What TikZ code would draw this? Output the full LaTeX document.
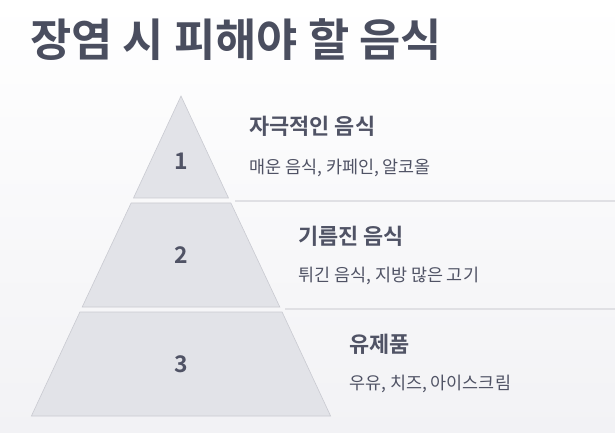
\documentclass[tikz,border=0pt]{standalone}
\usepackage{fontspec}
\setmainfont{Noto Sans CJK KR}[BoldFont={* Bold}]
\usetikzlibrary{positioning}

\definecolor{inkdark}{HTML}{4A4E5F}
\definecolor{inktext}{HTML}{505365}
\definecolor{tierfill}{HTML}{E2E3E8}
\definecolor{tieredge}{HTML}{C9CAD1}
\definecolor{rulegray}{HTML}{E0E0E4}
\definecolor{bgshade}{HTML}{F2F2F5}

\begin{document}
\begin{tikzpicture}[x=1bp,y=-1bp]
        \tikzset{
            tier/.style= {
                fill=tierfill,
                draw=tieredge,
                line width=0.6bp
            },
            num/.style= {
                font=\bfseries\fontsize{23}{23}\selectfont,
                text=inktext
            },
            head/.style= {
                anchor=west,
                inner sep=0pt,
                font=\bfseries\fontsize{22}{22}\selectfont,
                text=inktext
            },
            desc/.style= {
                inner sep=0pt,
                font=\fontsize{17.5}{17.5}\selectfont,
                text=inktext
            },
            divider/.style= {
                draw=rulegray,
                line width=2bp
            }
        }
        % background
        \shade[top color=white, bottom color=bgshade] (0,0) rectangle (615,433);
        \useasboundingbox (0,0) rectangle (615,433);
        \node [anchor=west, inner sep=0pt, text=inkdark,
               font=\bfseries\fontsize{45}{45}\selectfont] (title) at (30,40)
            {장염 시 피해야 할 음식};
%% pyramid
        \path[tier] (181,96) -- (228.5,198) -- (133.5,198) -- cycle;
        \path[tier] (131.1,203) -- (230.9,203) -- (279.8,307) -- (82.2,307) -- cycle;
        \path[tier] (79.9,312) -- (282.1,312) -- (330.6,416) -- (31.4,416) -- cycle;
        \node [num] (n1) at (181,161) {1};
        \node [num] (n2) at (181,255) {2};
        \node [num] (n3) at (181,364) {3};
%% dividers
        \coordinate (d1) at (235,201);
        \coordinate (d2) at (285,309);
        \draw[divider] (d1) -- (615,201);
        \draw[divider] (d2) -- (615,309);
%% labels
        \node [head] (spicy) at (249,126)
            {자극적인 음식};
        \node [desc, below right=23bp and 0bp of spicy.south west] (spicy_d)
            {매운 음식, 카페인, 알코올};
        \node [head] (greasy) at (298,236)
            {기름진 음식};
        \node [desc, below right=21bp and 0bp of greasy.south west] (greasy_d)
            {튀긴 음식, 지방 많은 고기};
        \node [head] (dairy) at (349,344)
            {유제품};
        \node [desc, below right=21bp and 0bp of dairy.south west] (dairy_d)
            {우유, 치즈, 아이스크림};
\end{tikzpicture}
\end{document}
